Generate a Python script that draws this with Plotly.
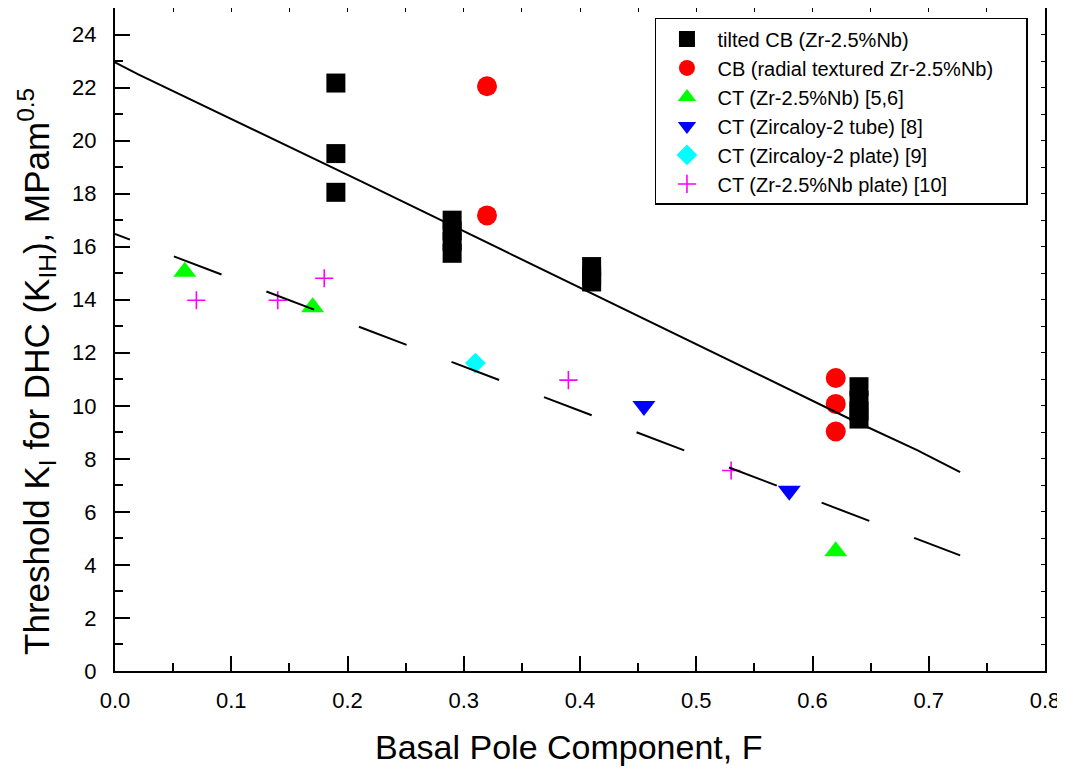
import plotly.graph_objects as go

# ---- data ----
tilted_x = [0.19, 0.19, 0.19, 0.29, 0.29, 0.29, 0.29, 0.41, 0.41, 0.41, 0.64, 0.64, 0.64, 0.64]
tilted_y = [22.17, 19.51, 18.05, 17.0, 16.6, 16.2, 15.75, 15.25, 14.9, 14.67, 10.72, 10.2, 9.8, 9.5]

radial_x = [0.32, 0.32, 0.62, 0.62, 0.62]
radial_y = [22.05, 17.18, 11.05, 10.07, 9.03]

ct_znb_x = [0.06, 0.17, 0.62]
ct_znb_y = [15.05, 13.72, 4.52]

ct_zr2tube_x = [0.455, 0.58]
ct_zr2tube_y = [9.99, 6.8]

ct_zr2plate_x = [0.31]
ct_zr2plate_y = [11.61]

ct_znbplate_x = [0.07, 0.14, 0.18, 0.39, 0.53]
ct_znbplate_y = [13.98, 13.98, 14.81, 10.97, 7.56]

cb_fit_x = [0.0, 0.02, 0.21, 0.45, 0.63, 0.69, 0.727]
cb_fit_y = [22.95, 22.5, 18.5, 13.4, 9.55, 8.33, 7.5]

ct_fit_x = [0.0, 0.727]
ct_fit_y = [16.48, 4.36]

labels = ["tilted CB (Zr-2.5%Nb)", "CB (radial textured Zr-2.5%Nb)", "CT (Zr-2.5%Nb) [5,6]",
          "CT (Zircaloy-2 tube) [8]", "CT (Zircaloy-2 plate) [9]", "CT (Zr-2.5%Nb plate) [10]"]
x_title = "Basal Pole Component, F"
y_title = "Threshold K<sub>I</sub> for DHC (K<sub>IH</sub>), MPam<sup>0.5</sup>"

FONT = "Liberation Sans, Arial, sans-serif"
PAD = "\u00a0" * 5  # right padding inside the legend box

fig = go.Figure()

def sc(x, y, name, rank, symbol, color, size, lw=0, lc=None):
    fig.add_trace(go.Scatter(
        x=x, y=y, mode="markers", name=name, legendrank=rank, legendgroup=name,
        marker=dict(symbol=symbol, color=color, size=size,
                    line=dict(width=lw, color=lc if lc else color)),
    ))

sc(radial_x, radial_y, labels[1] + PAD, 2, "circle", "#FF0000", 20)
sc(ct_znb_x, ct_znb_y, labels[2], 3, "triangle-up", "#00FF00", 20)
sc(ct_zr2tube_x, ct_zr2tube_y, labels[3], 4, "triangle-down", "#0000FF", 20)
sc(ct_zr2plate_x, ct_zr2plate_y, labels[4], 5, "diamond", "#00FFFF", 16)
sc(ct_znbplate_x, ct_znbplate_y, labels[5], 6, "cross-thin", "#FF00FF", 13, lw=1.6, lc="#FF00FF")

fig.add_trace(go.Scatter(x=cb_fit_x, y=cb_fit_y, mode="lines", showlegend=False,
                         line=dict(color="black", width=2)))
dash = "16px,47px" + ",51px,48px" * 10
fig.add_trace(go.Scatter(x=ct_fit_x, y=ct_fit_y, mode="lines", showlegend=False,
                         line=dict(color="black", width=2, dash=dash)))

sc(tilted_x, tilted_y, labels[0], 1, "square", "#000000", 19)

# helper trace for top/right short tick axes
fig.add_trace(go.Scatter(x=[], y=[], xaxis="x2", yaxis="y2", showlegend=False))

fig.update_layout(
    width=1057, height=765,
    margin=dict(l=107, r=20, t=0, b=102, autoexpand=False),
    paper_bgcolor="white", plot_bgcolor="white",
    font=dict(family=FONT, color="black"),
    xaxis=dict(
        range=[0, 0.8], dtick=0.1, tickformat=".1f", showgrid=False, zeroline=False,
        automargin=False,
        showline=True, linecolor="black", linewidth=2, mirror=True,
        ticks="inside", ticklen=15, tickwidth=1.5, tickcolor="black",
        minor=dict(dtick=0.05, ticks="inside", ticklen=8, tickwidth=1.5, tickcolor="black"),
        tickfont=dict(size=22), ticklabelstandoff=9,
    ),
    yaxis=dict(
        range=[0, 25], tickvals=list(range(0, 25, 2)), showgrid=False, zeroline=False,
        automargin=False,
        showline=True, linecolor="black", linewidth=2, mirror=True,
        ticks="inside", ticklen=15, tickwidth=1.5, tickcolor="black",
        minor=dict(dtick=1, ticks="inside", ticklen=8, tickwidth=1.5, tickcolor="black"),
        tickfont=dict(size=22), ticklabelstandoff=12,
    ),
    xaxis2=dict(overlaying="x", side="top", range=[0, 0.8], dtick=0.05, showticklabels=False,
                automargin=False,
                showgrid=False, zeroline=False, ticks="inside", ticklen=4, tickwidth=1.2,
                tickcolor="black"),
    yaxis2=dict(overlaying="y", side="right", range=[0, 25], dtick=1, showticklabels=False,
                automargin=False,
                showgrid=False, zeroline=False, ticks="inside", ticklen=4, tickwidth=1.2,
                tickcolor="black"),
    legend=dict(
        x=0.5806, y=0.985, xanchor="left", yanchor="top",
        bgcolor="white", bordercolor="black", borderwidth=1.5,
        font=dict(size=20, family=FONT), tracegroupgap=0, itemwidth=51,
    ),
    showlegend=True,
    annotations=[
        dict(text=x_title, xref="paper", yref="paper", x=0.4876, y=-0.1146,
             xanchor="center", yanchor="middle", showarrow=False, font=dict(size=34)),
        dict(text=y_title, xref="paper", yref="paper", x=-0.0839, y=0.4525,
             xanchor="center", yanchor="middle", showarrow=False, textangle=-90,
             font=dict(size=35)),
    ],
)

fig.write_html("out.html")
